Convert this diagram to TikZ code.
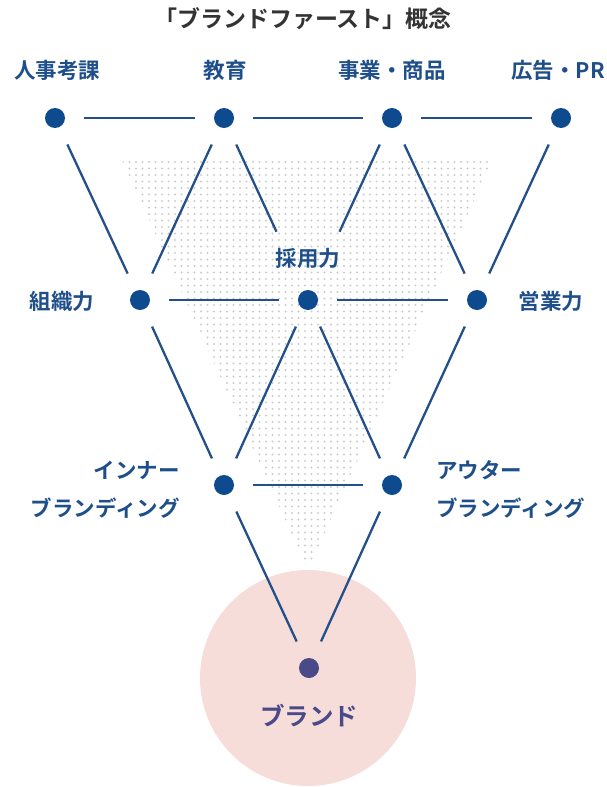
\documentclass[tikz,border=0pt]{standalone}
\usepackage{fontspec}
\newfontfamily\jp{Noto Sans CJK JP}[BoldFont=* Bold]
\definecolor{navy}{HTML}{0D4A8E}
\definecolor{linec}{HTML}{24508A}
\definecolor{labc}{HTML}{1E4F8A}
\definecolor{brandc}{HTML}{4A4A88}
\definecolor{pinkc}{HTML}{F6DDD9}
\definecolor{dotc}{HTML}{CCCCCC}
\definecolor{titlec}{HTML}{333333}
\tikzset{
  dotnode/.style={circle,fill=navy,minimum size=20pt,inner sep=0pt},
  edge/.style={draw=linec,line width=2.3pt,shorten <=19pt,shorten >=19pt},
  lab/.style={font=\jp\bfseries\fontsize{21.5}{25}\selectfont,text=labc,inner sep=0pt},
}
\begin{document}
\begin{tikzpicture}[x=1pt,y=-1pt]
\useasboundingbox (0,0) rectangle (606,787);
% brand circle
\fill[pinkc] (308,678) circle (108pt);
% dot field
\begin{scope}
\clip (121,158) -- (493,158) -- (308,570) -- cycle;
\foreach \i in {0,...,57}{
  \foreach \j in {0,...,62}{
    \fill[dotc] (123+\i*6.5,162+\j*6.5) circle (1.15pt);
  }
}
\end{scope}
% nodes
\node[dotnode] (a1) at (55,118) {};
\node[dotnode] (a2) at (224,118) {};
\node[dotnode] (a3) at (392,118) {};
\node[dotnode] (a4) at (561,118) {};
\node[dotnode] (b1) at (140,300) {};
\node[dotnode] (b2) at (308,300) {};
\node[dotnode] (b3) at (477,300) {};
\node[dotnode] (c1) at (224,485) {};
\node[dotnode] (c2) at (392,485) {};
\node[dotnode,fill=brandc] (d) at (309,668) {};
% edges
\foreach \u/\v in {a1/a2,a2/a3,a3/a4,a1/b1,a2/b1,a3/b3,a4/b3,b1/b2,b2/b3,b1/c1,b2/c1,b2/c2,b3/c2,c1/c2,c1/d,c2/d}
  \draw[edge] (\u) -- (\v);
\draw[edge,shorten >=65pt] (a2) -- (b2);
\draw[edge,shorten >=65pt] (a3) -- (b2);
% labels
\node[font=\jp\bfseries\fontsize{23}{27}\selectfont,text=titlec,inner sep=0pt] (title) at (303,19) {「ブランドファースト」概念};
\node[lab] (l1) at (57,70) {人事考課};
\node[lab] (l2) at (225,70) {教育};
\node[lab] (l3) at (392,70) {事業・商品};
\node[lab] (l4) at (558,70) {広告・PR};
\node[lab] (l5) at (62,301) {組織力};
\node[lab] (l6) at (308,258) {採用力};
\node[lab] (l7) at (551,301) {営業力};
\node[lab,anchor=east] (l8) at (180,470) {インナー};
\node[lab,anchor=east] (l9) at (180,508) {ブランディング};
\node[lab,anchor=west] (l10) at (436,470) {アウター};
\node[lab,anchor=west] (l11) at (436,508) {ブランディング};
\node[font=\jp\bfseries\fontsize{24.5}{28}\selectfont,text=brandc,inner sep=0pt] (l12) at (309,716) {ブランド};
\end{tikzpicture}
\end{document}
